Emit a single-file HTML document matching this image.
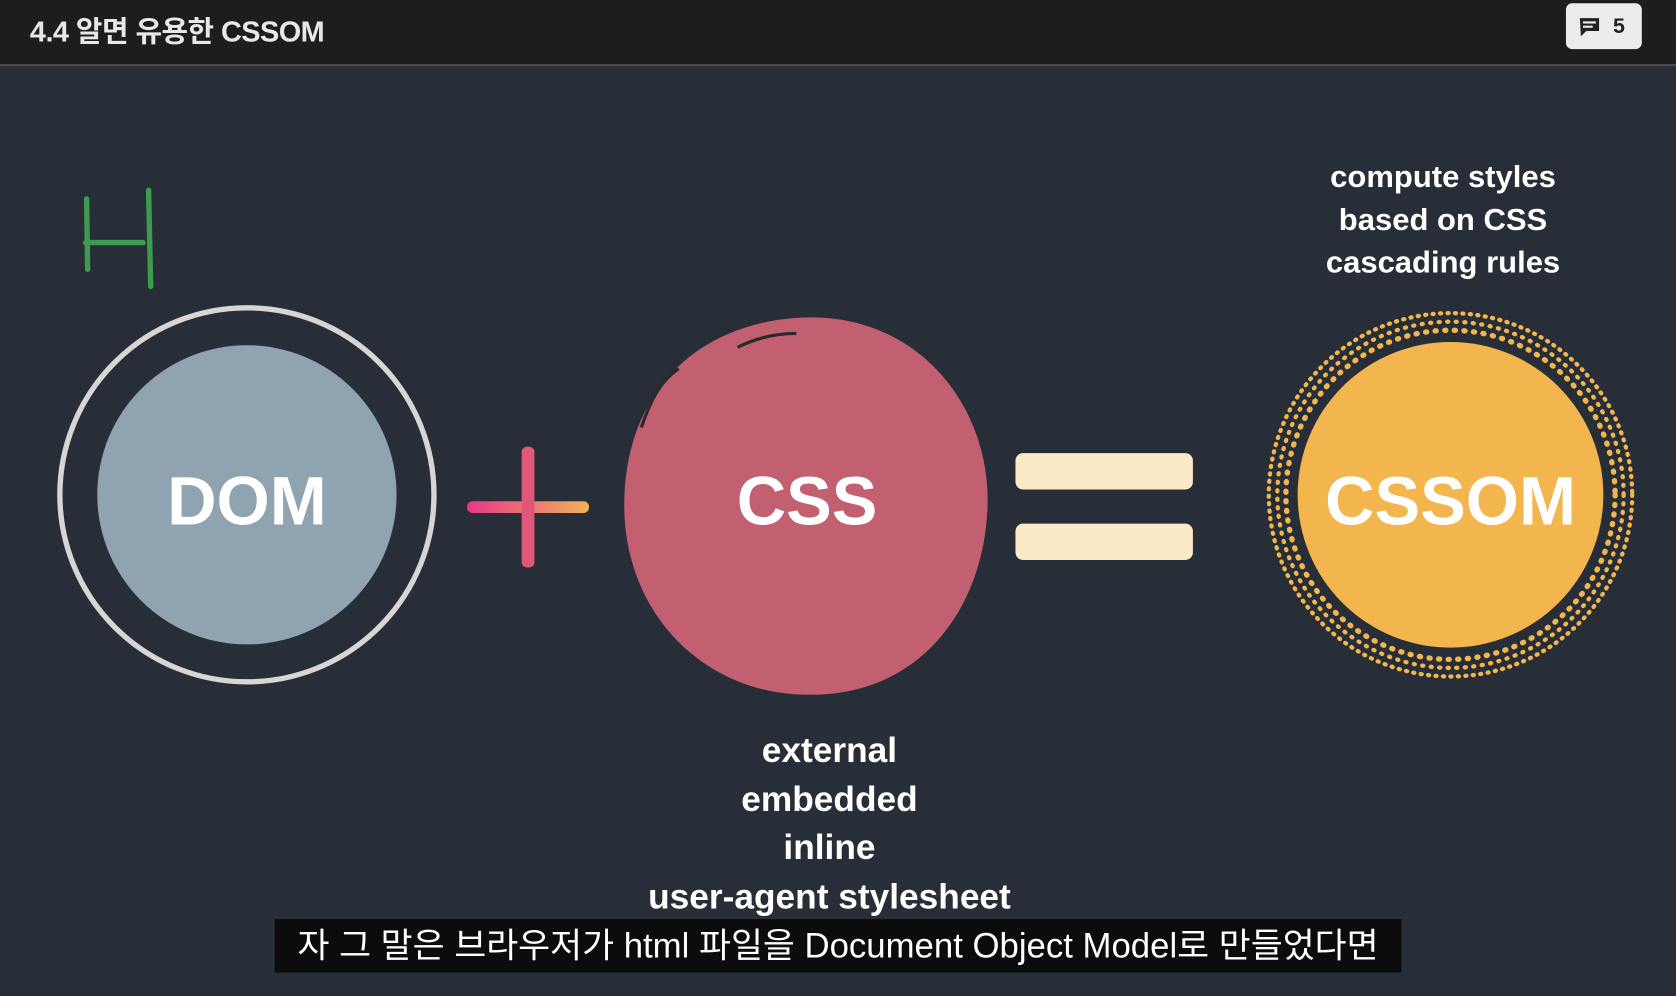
<!DOCTYPE html>
<html><head><meta charset="utf-8"><style>
html,body{margin:0;padding:0;width:1676px;height:996px;overflow:hidden;background:#272e37;}
#w{position:absolute;left:0;top:0;width:1568px;height:932px;transform:scale(1.0689,1.0687);transform-origin:0 0;background:#272e37;font-family:"Liberation Sans","Noto Sans CJK KR",sans-serif;}
.hdr{position:absolute;left:0;top:0;width:1568px;height:60px;background:#1d1d1d;border-bottom:2px solid #4a4c50;}
.t{position:absolute;left:28px;top:8px;color:#e8e8e8;font-size:27px;font-weight:bold;letter-spacing:-0.5px;}
.badge{position:absolute;left:1465px;top:3px;width:71px;height:43px;background:#ececec;border-radius:6px;color:#222;font-weight:bold;font-size:20px;}
.lbl{position:absolute;color:#fff;font-weight:bold;text-align:center;font-family:"Liberation Sans",sans-serif;}
.sub{position:absolute;left:257px;top:860px;width:1054px;height:50px;background:#0c0c0c;color:#fff;font-size:32.5px;text-align:center;line-height:50px;white-space:nowrap;}
</style></head><body><div id="w">
<div class="hdr"><div class="t">4.4 알면 유용한 CSSOM</div>
<div class="badge"><svg style="position:absolute;left:12px;top:13px" width="22" height="20"><path d="M1 1h18v12H7l-5 5z" fill="#222"/><rect x="4" y="4" width="12" height="2" fill="#ececec"/><rect x="4" y="8" width="9" height="2" fill="#ececec"/></svg><span style="position:absolute;left:44px;top:11px">5</span></div></div>
<svg width="1568" height="932" style="position:absolute;left:0;top:0">
<defs><linearGradient id="g" x1="0" x2="1"><stop offset="0" stop-color="#e8388a"/><stop offset="1" stop-color="#f2b25a"/></linearGradient></defs>
<path d="M81 186 L82 252 M80 227 L134 227 M139 178 L141 268" stroke="#3e9a4e" stroke-width="5" fill="none" stroke-linecap="round"/>
<circle cx="231" cy="463" r="175" fill="none" stroke="#d8d5d3" stroke-width="5"/>
<circle cx="231" cy="463" r="140" fill="#8fa3b1"/>
<rect x="437" y="469" width="114" height="11" rx="5" fill="url(#g)"/>
<rect x="488" y="418" width="12" height="113" rx="5" fill="#e0577a"/>
<path d="M755 297 C860 295 925 380 924 470 C922 570 860 650 760 650 C660 652 585 575 584 475 C583 370 650 300 755 297Z" fill="#c26072"/>
<path d="M600 400 C610 370 620 355 635 345" stroke="#2a2a2a" stroke-width="3" fill="none"/>
<path d="M690 325 C710 315 730 312 745 312" stroke="#2a2a2a" stroke-width="3" fill="none"/>
<rect x="950" y="424" width="166" height="34" rx="7" fill="#fbe9c8"/>
<rect x="950" y="490" width="166" height="34" rx="7" fill="#fbe9c8"/>
<circle cx="1357" cy="463" r="170" fill="none" stroke="#f2b64e" stroke-width="4" stroke-dasharray="1 6" stroke-linecap="round"/>
<circle cx="1357" cy="463" r="162" fill="none" stroke="#f2b64e" stroke-width="4" stroke-dasharray="1 7" stroke-linecap="round"/>
<circle cx="1357" cy="463" r="154" fill="none" stroke="#f2b64e" stroke-width="5" stroke-dasharray="1 8" stroke-linecap="round"/>
<circle cx="1357" cy="463" r="143" fill="#f3b54d"/>
</svg>
<div class="lbl" style="left:81px;top:432px;width:300px;font-size:64px">DOM</div>
<div class="lbl" style="left:605px;top:432px;width:300px;font-size:64px">CSS</div>
<div class="lbl" style="left:1207px;top:432px;width:300px;font-size:64px">CSSOM</div>
<div class="lbl" style="left:1150px;top:146px;width:400px;font-size:29px;line-height:40px">compute styles<br>based on CSS<br>cascading rules</div>
<div class="lbl" style="left:526px;top:679px;width:500px;font-size:33px;line-height:45.5px">external<br>embedded<br>inline<br>user-agent stylesheet</div>
<div class="sub">자 그 말은 브라우저가 html 파일을 Document Object Model로 만들었다면</div>
</div></body></html>
